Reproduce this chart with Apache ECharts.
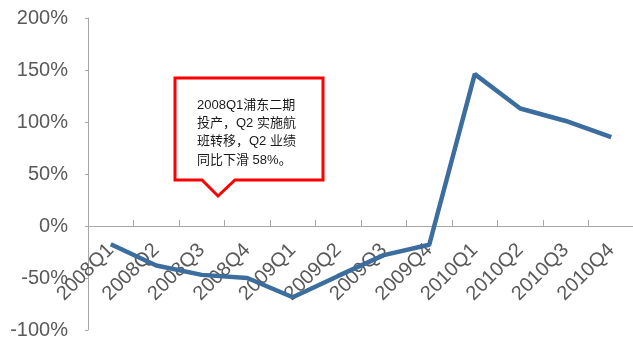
<!DOCTYPE html>
<html>
<head>
<meta charset="utf-8">
<script src="https://cdn.jsdelivr.net/npm/echarts@6/dist/echarts.min.js"></script>
<style>
  html, body { margin: 0; padding: 0; background: #fff; }
  #chart { width: 633px; height: 342px; }
</style>
</head>
<body>
<div id="chart"></div>
<script>
// Quarterly year-on-year change (%)
const quarters = ['2008Q1', '2008Q2', '2008Q3', '2008Q4', '2009Q1', '2009Q2',
                  '2009Q3', '2009Q4', '2010Q1', '2010Q2', '2010Q3', '2010Q4'];
const yoyChange = [-17.5, -38, -47, -50, -68.5, -48, -28, -18, 146, 113, 101, 85.5];
const yTicks = [-100, -50, 0, 50, 100, 150, 200];
const noteText = '2008Q1浦东二期\n投产，Q2 实施航\n班转移，Q2 业绩\n同比下滑 58%。';

const chart = echarts.init(document.getElementById('chart'));
const axisGray = '#a6a6a6';
const labelGray = '#595959';
const latin = '"Liberation Sans", Arial, sans-serif';

const gridTop = 18, gridBottom = 12, chartHeight = 342;
const yMin = yTicks[0], yMax = yTicks[yTicks.length - 1];
// lift the category axis from the plot bottom up to the 0% line
const plotHeight = chartHeight - gridTop - gridBottom;
const zeroLift = plotHeight * (0 - yMin) / (yMax - yMin);

chart.setOption({
  animation: false,
  grid: { left: 88, right: -1, top: gridTop, bottom: gridBottom, containLabel: false, outerBoundsMode: 'none' },
  xAxis: {
    type: 'category',
    data: quarters,
    boundaryGap: true,
    position: 'bottom',
    offset: -zeroLift,
    axisLine: { onZero: false, lineStyle: { color: axisGray, width: 1 } },
    axisTick: { show: true, inside: true, length: 6, interval: 0, lineStyle: { color: axisGray } },
    axisLabel: {
      interval: 0, rotate: 45, margin: 21,
      color: labelGray, fontSize: 20, fontFamily: latin
    },
    splitLine: { show: false }
  },
  yAxis: {
    type: 'value',
    min: yMin,
    max: yMax,
    interval: 50,
    axisLine: { show: true, lineStyle: { color: axisGray, width: 1 } },
    axisTick: { show: true, length: 3, lineStyle: { color: axisGray } },
    axisLabel: {
      margin: 20, color: labelGray, fontSize: 20, fontFamily: latin,
      formatter: v => v + '%'
    },
    splitLine: { show: false }
  },
  series: [{
    type: 'line',
    data: yoyChange,
    symbol: 'none',
    lineStyle: { color: '#3b6e9e', width: 4.5 },
    z: 3
  }],
  graphic: [
    {
      type: 'polygon',
      z: 10,
      shape: {
        points: [[175, 78], [323, 78], [323, 180], [235, 180], [218, 196], [202, 180], [175, 180]]
      },
      style: { fill: '#ffffff', stroke: '#ff0000', lineWidth: 3, lineJoin: 'miter' }
    },
    {
      type: 'text',
      z: 11,
      left: 197,
      top: 96,
      style: {
        text: noteText,
        fill: '#1a1a1a',
        font: '13px "Liberation Sans", "Noto Sans CJK SC", sans-serif',
        lineHeight: 18.3
      }
    }
  ]
});
</script>
</body>
</html>
